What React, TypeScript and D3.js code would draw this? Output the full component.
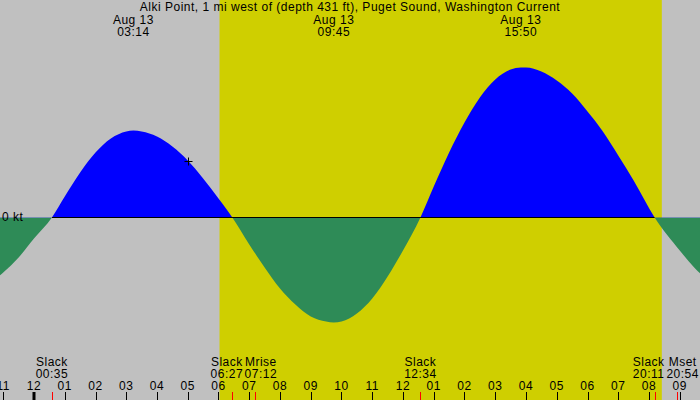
import React, { useEffect, useRef } from 'react';
import * as d3 from 'd3';

const title = 'Alki Point, 1 mi west of (depth 431 ft), Puget Sound, Washington Current';
const dateLabel = 'Aug 13';

// current: hours after midnight Aug 13, knots (+ flood, - ebb)
// the first and last few samples lie just outside the visible window
const curveHours = [-2.6, -2, -1.5, -1, -0.5, 0, 0.583, 1, 1.5, 2, 2.5, 3, 3.233, 3.5, 4, 4.5, 5, 5.5, 6, 6.45,
  7, 7.5, 8, 8.5, 9, 9.5, 9.75, 10, 10.5, 11, 11.5, 12, 12.567, 13, 13.5, 14, 14.5, 15, 15.5, 15.833,
  16, 16.5, 17, 17.5, 18, 18.5, 19, 19.5, 20.183, 21, 21.5, 22, 22.5, 23.2];
const curveKnots = [-0.78, -0.75, -0.67, -0.55, -0.4, -0.21, 0, 0.21, 0.45, 0.65, 0.79, 0.86, 0.87, 0.86, 0.81, 0.71, 0.57, 0.39, 0.19, 0,
  -0.27, -0.5, -0.71, -0.87, -0.99, -1.04, -1.05, -1.04, -0.96, -0.81, -0.59, -0.33, 0, 0.31, 0.65, 0.95, 1.2, 1.38, 1.48, 1.5,
  1.5, 1.46, 1.37, 1.24, 1.06, 0.86, 0.62, 0.37, 0, -0.33, -0.51, -0.65, -0.75, -0.8];

const peakTimes = ['03:14', '09:45', '15:50'];

const eventNames = ['Slack', 'Slack', 'Mrise', 'Slack', 'Slack', 'Mset'];
const eventTimes = ['00:35', '06:27', '07:12', '12:34', '20:11', '20:54'];

const sunTimes = ['06:02', '20:25']; // sunrise, sunset

const hourTicks = d3.range(-1, 22);
const hourLabels = ['11', '12', '01', '02', '03', '04', '05', '06', '07', '08', '09', '10',
  '11', '12', '01', '02', '03', '04', '05', '06', '07', '08', '09'];

const markerTime = '05:00';
const markerKnots = 0.565;

const toHours = (s: string) => {
  const [h, m] = s.split(':').map(Number);
  return h + m / 60;
};

export default function App() {
  const svgRef = useRef<SVGSVGElement>(null);

  useEffect(() => {
    if (!svgRef.current) return;
    const svg = d3.select(svgRef.current);
    svg.selectAll('*').remove();

    const W = 700;
    const H = 400;

    const x = d3.scaleLinear().domain([0, 21]).range([34, 34 + 21 * 30.75]);
    const y = d3.scaleLinear().domain([0, 1]).range([217.5, 117.5]);

    const label = (tx: number, ty: number, s: string, anchor = 'middle') =>
      svg.append('text')
        .attr('x', tx).attr('y', ty).attr('text-anchor', anchor)
        .style('font-family', "'Liberation Sans', Arial, sans-serif")
        .style('font-size', '12px')
        .style('letter-spacing', '0.5px')
        .style('fill', '#000')
        .text(s);

    // night / day background
    svg.append('rect').attr('width', W).attr('height', H).attr('fill', '#c0c0c0');
    svg.append('rect')
      .attr('x', x(toHours(sunTimes[0])))
      .attr('width', x(toHours(sunTimes[1])) - x(toHours(sunTimes[0])))
      .attr('height', H)
      .attr('fill', '#cfcf00');

    const defs = svg.append('defs');
    defs.append('clipPath').attr('id', 'flood')
      .append('rect').attr('width', W).attr('height', y(0));
    defs.append('clipPath').attr('id', 'ebb')
      .append('rect').attr('y', y(0)).attr('width', W).attr('height', H - y(0));

    const pts = curveHours.map((h, i) => ({ h, v: curveKnots[i] }));
    const area = d3.area<any>()
      .x((d) => x(d.h))
      .y0(y(0))
      .y1((d) => y(d.v))
      .curve(d3.curveMonotoneX);

    svg.append('path').datum(pts).attr('d', area).attr('fill', '#0000ff').attr('clip-path', 'url(#flood)');
    svg.append('path').datum(pts).attr('d', area).attr('fill', '#2e8b57').attr('clip-path', 'url(#ebb)');

    // zero line between first and last slack
    const slacks = eventTimes.filter((_, i) => eventNames[i] === 'Slack').map(toHours);
    svg.append('line')
      .attr('x1', x(slacks[0])).attr('x2', x(slacks[slacks.length - 1]))
      .attr('y1', y(0)).attr('y2', y(0))
      .attr('stroke', '#000').attr('stroke-width', 1);

    label(2, 221, '0 kt', 'start');

    // current-time marker
    const mx = Math.round(x(toHours(markerTime))) + 0.5;
    const my = Math.round(y(markerKnots)) + 0.5;
    svg.append('path')
      .attr('d', `M${mx - 4},${my}H${mx + 4}M${mx},${my - 4}V${my + 4}`)
      .attr('stroke', '#000').attr('fill', 'none');

    // title and max-current labels
    label(W / 2, 11, title);
    peakTimes.forEach((t) => {
      const px = x(toHours(t));
      label(px, 23.5, dateLabel);
      label(px, 36, t);
    });

    // hour ticks and labels
    hourTicks.forEach((h, i) => {
      const tx = Math.round(x(h)) + 0.5;
      svg.append('line')
        .attr('x1', h % 24 === 0 ? tx - 0.5 : tx).attr('x2', h % 24 === 0 ? tx - 0.5 : tx)
        .attr('y1', 392).attr('y2', H)
        .attr('stroke', '#000').attr('stroke-width', h % 24 === 0 ? 3 : 1);
      label(x(h), 390, hourLabels[i]);
    });

    // events, labels pushed apart where they would collide
    const ev = eventTimes.map((t, i) => ({ name: eventNames[i], time: t, x0: x(toHours(t)), x: x(toHours(t)) }));
    const minGap = 34;
    for (let it = 0; it < 20; it++) {
      for (let i = 1; i < ev.length; i++) {
        const d = ev[i].x - ev[i - 1].x;
        if (d < minGap) {
          const s = (minGap - d) / 2;
          ev[i - 1].x -= s;
          ev[i].x += s;
        }
      }
    }
    ev.forEach((e) => {
      const tx = Math.round(e.x0) + 0.5;
      svg.append('line')
        .attr('x1', tx).attr('x2', tx).attr('y1', 392).attr('y2', H)
        .attr('stroke', '#ff0000').attr('stroke-width', 1);
      label(e.x, 366, e.name);
      label(e.x, 378, e.time);
    });
  }, []);

  return (
    <svg
      ref={svgRef}
      width={700}
      height={400}
      style={{ position: 'absolute', left: 0, top: 0, display: 'block' }}
    ></svg>
  );
}
